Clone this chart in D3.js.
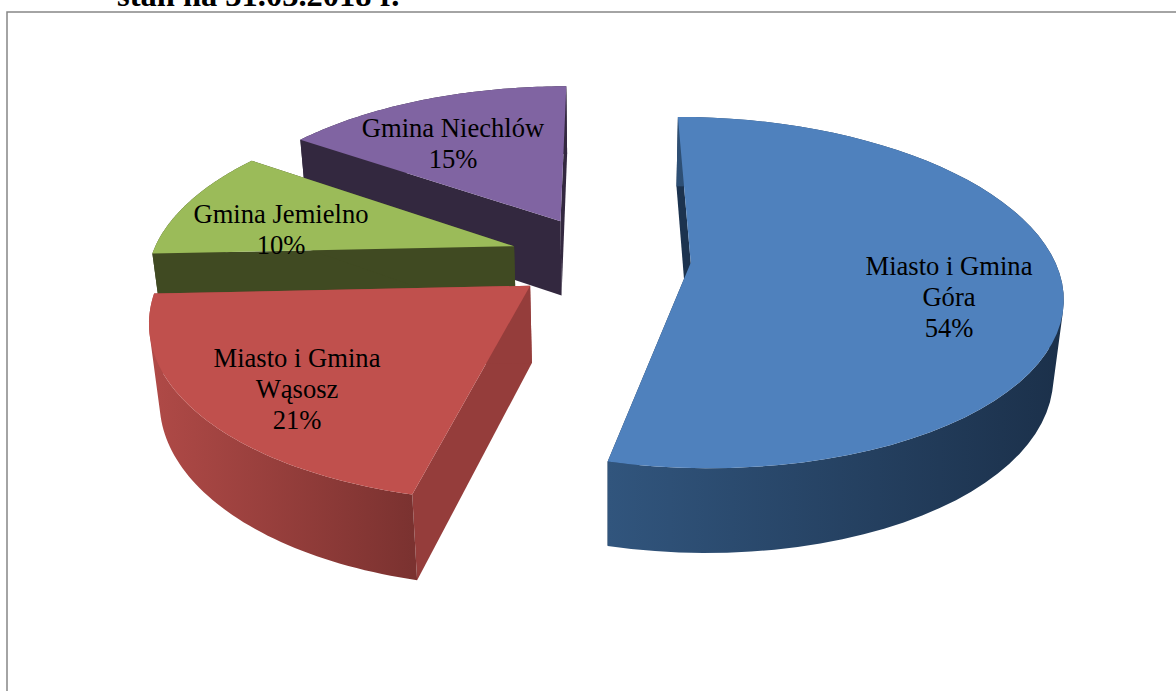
<!DOCTYPE html>
<html>
<head>
<meta charset="utf-8">
<script src="https://cdn.jsdelivr.net/npm/d3@7/dist/d3.min.js"></script>
<style>
html, body { margin: 0; padding: 0; background: #fff; overflow: hidden; }
text { font-family: "Liberation Serif", serif; fill: #000; }
</style>
</head>
<body>
<svg id="board" width="1176" height="691"></svg>
<script>
const categories = ["Miasto i Gmina Góra", "Miasto i Gmina Wąsosz", "Gmina Jemielno", "Gmina Niechlów"]
const shares = [53.7, 20.6, 10.3, 15.4]
const labelLines = [["Miasto i Gmina", "Góra"], ["Miasto i Gmina", "Wąsosz"], ["Gmina Jemielno"], ["Gmina Niechlów"]]

const topColors = ["#4f81bd", "#c0504d", "#9bbb59", "#8064a2"]
const sideColors = ["#1c334f", "#953d3b", "#404a22", "#33283f"]
const wallFrom = ["#31557d", "#b04a47", "#404a22", "#33283f"]
const wallTo = ["#1b304a", "#7b3230", "#404a22", "#33283f"]
const labelSpots = [[949, 275], [297, 367], [281, 223], [453, 137]]
const explode = [0.245, 0.25, 0.255, 0.255]

// projection of the tilted pie, fitted by eye
const cx = 602, cy = 258, k = 363, tilt = 169, persp = 0.1685
const depth = 76, depthPersp = 0.1, vanishX = 607, squeeze = 0.025

const board = d3.select("#board")
const defs = board.append("defs")

function project(u, v, z) {
    let s = 1 / (1 + persp * v)
    let x = cx + k * u * s
    let y = cy - tilt * v * s
    if (z) {
        let d = depth / (1 + depthPersp * v)
        x = x + (vanishX - x) * squeeze * d / 85
        y = y + d
    }
    return [x, y]
}

const slices = d3.pie().sort(null).value(d => d)(shares)
const line = d3.line()

// back slices first so the front ones cover them
const drawOrder = [3, 2, 1, 0]

drawOrder.forEach(i => {
    let sl = slices[i]
    let mid = (sl.startAngle + sl.endAngle) / 2
    let ou = explode[i] * Math.sin(mid)
    let ov = explode[i] * Math.cos(mid)

    let angles = d3.range(0, 61).map(n => sl.startAngle + (sl.endAngle - sl.startAngle) * n / 60)
    let rim = z => angles.map(a => project(ou + Math.sin(a), ov + Math.cos(a), z))
    let apex = z => project(ou, ov, z)
    let topRim = rim(0), lowRim = rim(1)

    // side walls
    let g = board.append("g")
    g.append("path")
        .attr("d", line([apex(0), topRim[0], lowRim[0], apex(1)]) + "Z")
        .attr("fill", sideColors[i])
    g.append("path")
        .attr("d", line([apex(0), topRim[60], lowRim[60], apex(1)]) + "Z")
        .attr("fill", sideColors[i])

    // outer wall, all the strips in one path so there are no seams
    let xs = topRim.map(p => p[0])
    let grad = defs.append("linearGradient")
        .attr("id", "wall" + i)
        .attr("gradientUnits", "userSpaceOnUse")
        .attr("x1", d3.min(xs)).attr("x2", d3.max(xs))
        .attr("y1", 0).attr("y2", 0)
    grad.append("stop").attr("offset", 0).attr("stop-color", wallFrom[i])
    grad.append("stop").attr("offset", 1).attr("stop-color", wallTo[i])
    let strips = d3.range(0, 60).map(n => {
        let quad = [topRim[n], topRim[n + 1], lowRim[n + 1], lowRim[n]]
        // same winding for every strip, otherwise overlaps cancel out
        if (d3.polygonArea(quad) < 0) quad.reverse()
        return line(quad) + "Z"
    })
    g.append("path")
        .attr("d", strips.join(""))
        .attr("fill", "url(#wall" + i + ")")
        .attr("fill-rule", "nonzero")

    // top face
    g.append("path")
        .attr("d", line([apex(0)].concat(topRim)) + "Z")
        .attr("fill", topColors[i])
})

// labels
categories.forEach((name, i) => {
    let rows = labelLines[i].concat([Math.round(shares[i]) + "%"])
    rows.forEach((row, r) => {
        board.append("text")
            .attr("x", labelSpots[i][0])
            .attr("y", labelSpots[i][1] + r * 31)
            .attr("text-anchor", "middle")
            .attr("font-size", 26.6)
            .text(row)
    })
})

// frame of the chart and the title above it, the page cuts the title off
board.append("rect")
    .attr("x", 7).attr("y", 12)
    .attr("width", 1200).attr("height", 720)
    .attr("fill", "none")
    .attr("stroke", "#868686")
    .attr("stroke-width", 1.5)

board.append("text")
    .attr("x", 117)
    .attr("y", 6)
    .attr("font-size", 32.5)
    .attr("font-weight", "bold")
    .text("stan na 31.03.2018 r.")
</script>
</body>
</html>
